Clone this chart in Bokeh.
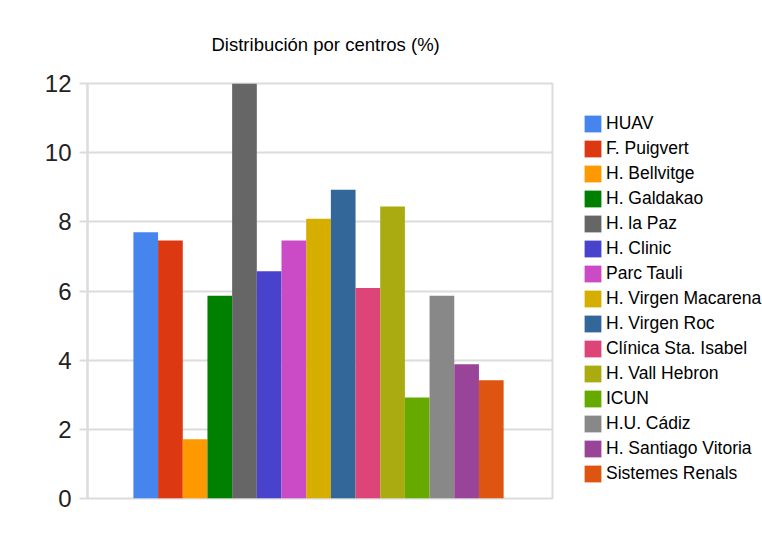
from bokeh.plotting import figure
from bokeh.models import ColumnDataSource, Range1d, Legend, LegendItem, FixedTicker
from bokeh.embed import file_html
from bokeh.resources import INLINE

centros = ["HUAV", "F. Puigvert", "H. Bellvitge", "H. Galdakao", "H. la Paz",
           "H. Clinic", "Parc Tauli", "H. Virgen Macarena", "H. Virgen Roc",
           "Clínica Sta. Isabel", "H. Vall Hebron", "ICUN", "H.U. Cádiz",
           "H. Santiago Vitoria", "Sistemes Renals"]
valores = [7.70, 7.46, 1.71, 5.86, 12.0, 6.57, 7.46, 8.09, 8.93,
           6.09, 8.44, 2.92, 5.86, 3.88, 3.42]
colores = ["#4684EE", "#DC3912", "#FF9900", "#008000", "#666666", "#4942CC",
           "#CB4AC5", "#D6AE00", "#336699", "#DD4477", "#AAAA11", "#66AA00",
           "#888888", "#994499", "#DD5511"]
y_ticks = [0, 2, 4, 6, 8, 10, 12]

FONT = "Liberation Sans"
GRID = "#dcdcdc"

p = figure(frame_width=465, frame_height=415, output_backend="svg",
           toolbar_location=None,
           x_range=Range1d(-2.36, 16.48), y_range=Range1d(0, 12),
           min_border_left=87, min_border_right=10, min_border_top=83,
           min_border_bottom=42)

p.title.text = "Distribución por centros (%)"
p.title.align = "left"
p.title.text_font = FONT
p.title.text_font_size = "18.5px"
p.title.text_font_style = "normal"
p.title.text_color = "#000000"
p.title.offset = 124
p.title.standoff = 57

items = []
for i, (c, v, col) in enumerate(zip(centros, valores, colores)):
    src = ColumnDataSource(dict(x=[i], top=[v]))
    r = p.vbar(x="x", top="top", width=1.0, source=src, fill_color=col,
               line_color=None)
    items.append(LegendItem(label=c, renderers=[r]))

p.xaxis.visible = False
p.xgrid.visible = False
p.ygrid.grid_line_color = GRID
p.ygrid.grid_line_width = 2
p.outline_line_color = GRID
p.outline_line_width = 2

ax = p.yaxis[0]
ax.ticker = FixedTicker(ticks=y_ticks)
ax.axis_line_color = GRID
ax.axis_line_width = 2
ax.major_tick_line_color = GRID
ax.major_tick_line_width = 2
ax.major_tick_out = 8
ax.major_tick_in = 0
ax.minor_tick_line_color = None
ax.major_label_text_font = FONT
ax.major_label_text_font_size = "24px"
ax.major_label_text_color = "#222222"
ax.major_label_standoff = 8

legend = Legend(items=items, location="top_left")
legend.label_text_font = FONT
legend.label_text_font_size = "17.5px"
legend.label_text_color = "#000000"
legend.glyph_width = 21
legend.glyph_height = 21
legend.label_height = 20
legend.spacing = 4
legend.label_standoff = 3
legend.padding = 0
legend.margin = 30
legend.border_line_color = None
legend.background_fill_alpha = 0
p.add_layout(legend, "right")

open("out.html", "w").write(file_html(p, INLINE))
